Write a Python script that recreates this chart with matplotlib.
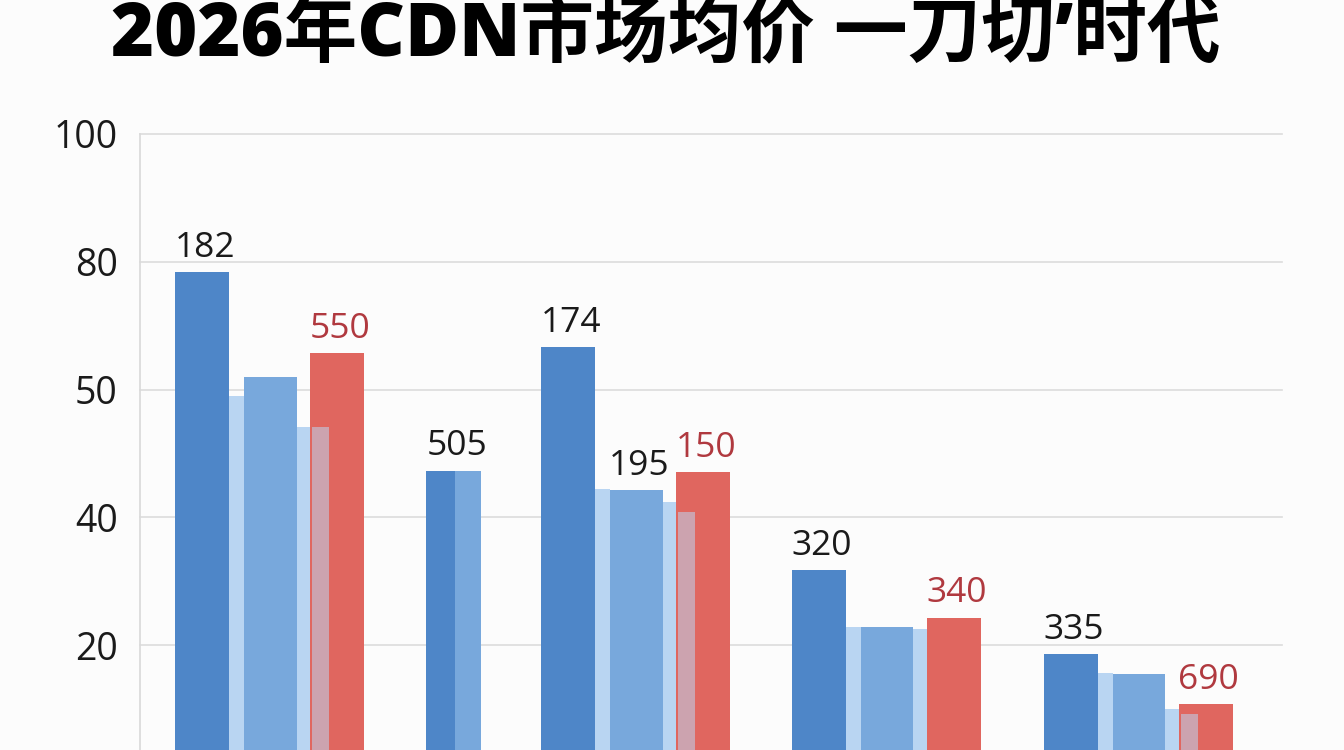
import matplotlib.pyplot as plt

plt.rcParams['font.family'] = ['Open Sans', 'Noto Sans CJK SC', 'DejaVu Sans']

# values (axis units, ticks at 20..100)
groups = ['g1', 'g2', 'g3', 'g4', 'g5']
dark = [78.4, 47.3, 66.7, 31.8, 18.6]
shade1 = [59.0, None, 44.4, 22.8, 15.6]
light = [62.0, 47.3, 44.3, 22.8, 15.5]
shade2 = [54.1, None, 42.4, 22.6, 10.0]
overlay = [54.1, None, 40.8, None, 9.2]
red = [65.7, None, 47.1, 24.3, 10.8]

dark_labels = ['182', '505', '174', '320', '335']
light_labels = [None, None, '195', None, None]
red_labels = ['550', None, '150', '340', '690']

ytick_pos = [20, 40, 60, 80, 100]
ytick_labels = ['20', '40', '50', '80', '100']

title = '2026年CDN市场均价 一刀切’时代'

# layout
group_left = [0.65, 5.30, 7.43, 12.07, 16.74]
offsets = {'dark': 0.0, 'shade1': 1.0, 'light': 1.28, 'shade2': 2.25, 'red': 2.5, 'overlay': 2.53}
widths = {'dark': 1.0, 'shade1': 0.28, 'light': 0.97, 'shade2': 0.30, 'red': 1.0, 'overlay': 0.32}
narrow = {'dark': (0.0, 0.54), 'light': (0.54, 0.48)}  # squeezed second group
colors = {'dark': '#4e86c8', 'shade1': '#b9d5f2', 'light': '#78a8dc',
          'shade2': '#b9d5f2', 'red': '#e0665f', 'overlay': '#bcd6f2'}
series = {'dark': dark, 'shade1': shade1, 'light': light,
          'shade2': shade2, 'red': red, 'overlay': overlay}

W, H = 1344, 750
fig = plt.figure(figsize=(W / 100, H / 100), dpi=100)
fig.patch.set_facecolor('#fcfcfc')
ax = fig.add_axes([140 / W, 0, (1282 - 140) / W, (H - 134) / H])
ax.set_facecolor('#fcfcfc')

ymin = 100 - (H - 134) / 6.39
ax.set_ylim(ymin, 100)
ax.set_xlim(0, (1282 - 140) / 54)

for y in ytick_pos:
    ax.axhline(y, color='#dcdcdc', lw=1.2, zorder=0, clip_on=False)

bar_x = {}
for name in ['dark', 'shade1', 'light', 'shade2', 'red', 'overlay']:
    vals = series[name]
    xs, ws, hs = [], [], []
    for i, v in enumerate(vals):
        if v is None:
            continue
        if i == 1:
            off, w = narrow[name]
        else:
            off, w = offsets[name], widths[name]
        xs.append(group_left[i] + off)
        ws.append(w)
        hs.append(v - ymin)
        bar_x[(name, i)] = group_left[i] + off + w / 2
    alpha = 0.55 if name == 'overlay' else 1.0
    ax.bar(xs, hs, width=ws, bottom=ymin, align='edge', color=colors[name],
           alpha=alpha, linewidth=0, zorder=2)

def put_label(name, vals, labels, color):
    for i, (v, lab) in enumerate(zip(vals, labels)):
        if lab is None:
            continue
        x = bar_x[(name, i)]
        if i == 1:
            x = group_left[i] + 0.52
        ax.annotate(lab, (x + 0.05, v), xytext=(0, 11), textcoords='offset points',
                    ha='center', va='baseline', fontsize=25.5, color=color, zorder=4)

put_label('dark', dark, dark_labels, '#1a1a1a')
put_label('light', light, light_labels, '#1a1a1a')
put_label('red', red, red_labels, '#b0393f')

ax.set_yticks(ytick_pos)
ax.set_yticklabels(ytick_labels, fontsize=27, color='#1a1a1a')
ax.tick_params(axis='y', length=0, pad=16)
ax.set_xticks([])
for s in ['top', 'right', 'bottom']:
    ax.spines[s].set_visible(False)
ax.spines['left'].set_color('#d9d9d9')
ax.spines['left'].set_linewidth(1.2)

fig.text(0.495, 0.951, title, ha='center', va='center', fontsize=53,
         fontweight='black', family=['Open Sans', 'Noto Sans CJK SC', 'DejaVu Sans'],
         color='#000000')

fig.savefig('out.png', dpi=100, facecolor=fig.get_facecolor())
